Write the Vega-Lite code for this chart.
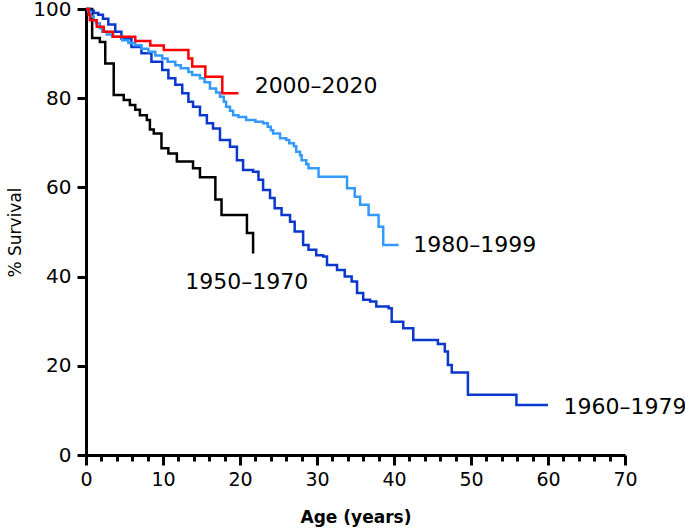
{
  "$schema": "https://vega.github.io/schema/vega-lite/v6.json",
  "autosize": "none",
  "width": 539,
  "height": 446,
  "padding": {"left": 86, "top": 9, "right": 60, "bottom": 77},
  "background": "white",
  "config": {
    "view": {"stroke": null},
    "font": "DejaVu Sans",
    "axis": {
      "grid": false,
      "domainColor": "black",
      "domainWidth": 3,
      "tickColor": "black",
      "tickWidth": 3,
      "labelColor": "black",
      "labelFont": "DejaVu Sans",
      "labelFontSize": 19,
      "titleColor": "black",
      "titleFont": "DejaVu Sans",
      "titleFontSize": 17,
      "labelOverlap": false
    }
  },
  "datasets": {
    "curves": [
      {"period": "1950–1970", "age": 0, "survival": 100},
      {"period": "1950–1970", "age": 0.8, "survival": 93.5},
      {"period": "1950–1970", "age": 1.8, "survival": 92.6},
      {"period": "1950–1970", "age": 2.5, "survival": 87.8},
      {"period": "1950–1970", "age": 3.6, "survival": 80.7},
      {"period": "1950–1970", "age": 4.9, "survival": 79.6},
      {"period": "1950–1970", "age": 5.7, "survival": 78.5},
      {"period": "1950–1970", "age": 6.4, "survival": 77.4},
      {"period": "1950–1970", "age": 7.0, "survival": 76.2},
      {"period": "1950–1970", "age": 7.9, "survival": 75.1},
      {"period": "1950–1970", "age": 8.3, "survival": 73.0},
      {"period": "1950–1970", "age": 8.8, "survival": 72.1},
      {"period": "1950–1970", "age": 9.8, "survival": 68.8},
      {"period": "1950–1970", "age": 10.7, "survival": 67.6},
      {"period": "1950–1970", "age": 11.8, "survival": 65.8},
      {"period": "1950–1970", "age": 13.9, "survival": 64.3},
      {"period": "1950–1970", "age": 14.8, "survival": 62.3},
      {"period": "1950–1970", "age": 16.8, "survival": 57.3},
      {"period": "1950–1970", "age": 17.6, "survival": 53.8},
      {"period": "1950–1970", "age": 20.9, "survival": 49.8},
      {"period": "1950–1970", "age": 21.7, "survival": 45.2},

      {"period": "1960–1979", "age": 0, "survival": 100},
      {"period": "1960–1979", "age": 0.5, "survival": 99.6},
      {"period": "1960–1979", "age": 1.0, "survival": 99.1},
      {"period": "1960–1979", "age": 1.6, "survival": 98.7},
      {"period": "1960–1979", "age": 2.2, "survival": 97.8},
      {"period": "1960–1979", "age": 2.9, "survival": 96.5},
      {"period": "1960–1979", "age": 3.8, "survival": 94.9},
      {"period": "1960–1979", "age": 4.6, "survival": 93.4},
      {"period": "1960–1979", "age": 5.9, "survival": 91.5},
      {"period": "1960–1979", "age": 7.2, "survival": 90.1},
      {"period": "1960–1979", "age": 8.5, "survival": 88.2},
      {"period": "1960–1979", "age": 9.9, "survival": 86.3},
      {"period": "1960–1979", "age": 10.7, "survival": 84.5},
      {"period": "1960–1979", "age": 11.6, "survival": 83.0},
      {"period": "1960–1979", "age": 12.5, "survival": 81.1},
      {"period": "1960–1979", "age": 13.3, "survival": 79.2},
      {"period": "1960–1979", "age": 13.9, "survival": 78.1},
      {"period": "1960–1979", "age": 14.8, "survival": 76.2},
      {"period": "1960–1979", "age": 15.7, "survival": 74.4},
      {"period": "1960–1979", "age": 16.5, "survival": 73.2},
      {"period": "1960–1979", "age": 17.4, "survival": 70.6},
      {"period": "1960–1979", "age": 18.7, "survival": 69.1},
      {"period": "1960–1979", "age": 19.6, "survival": 66.1},
      {"period": "1960–1979", "age": 20.4, "survival": 63.9},
      {"period": "1960–1979", "age": 21.7, "survival": 63.5},
      {"period": "1960–1979", "age": 22.4, "survival": 61.7},
      {"period": "1960–1979", "age": 23.0, "survival": 59.4},
      {"period": "1960–1979", "age": 23.9, "survival": 57.6},
      {"period": "1960–1979", "age": 24.5, "survival": 55.3},
      {"period": "1960–1979", "age": 25.4, "survival": 53.8},
      {"period": "1960–1979", "age": 26.5, "survival": 52.3},
      {"period": "1960–1979", "age": 27.1, "survival": 50.1},
      {"period": "1960–1979", "age": 28.2, "survival": 47.1},
      {"period": "1960–1979", "age": 28.9, "survival": 46.0},
      {"period": "1960–1979", "age": 29.9, "survival": 44.8},
      {"period": "1960–1979", "age": 30.8, "survival": 44.5},
      {"period": "1960–1979", "age": 31.3, "survival": 42.6},
      {"period": "1960–1979", "age": 32.6, "survival": 41.5},
      {"period": "1960–1979", "age": 33.6, "survival": 40.0},
      {"period": "1960–1979", "age": 34.5, "survival": 38.9},
      {"period": "1960–1979", "age": 35.2, "survival": 36.3},
      {"period": "1960–1979", "age": 36.0, "survival": 34.8},
      {"period": "1960–1979", "age": 36.9, "survival": 34.4},
      {"period": "1960–1979", "age": 37.7, "survival": 33.3},
      {"period": "1960–1979", "age": 39.3, "survival": 32.9},
      {"period": "1960–1979", "age": 39.7, "survival": 29.9},
      {"period": "1960–1979", "age": 41.2, "survival": 28.4},
      {"period": "1960–1979", "age": 42.5, "survival": 25.8},
      {"period": "1960–1979", "age": 45.7, "survival": 24.9},
      {"period": "1960–1979", "age": 46.6, "survival": 23.2},
      {"period": "1960–1979", "age": 47.0, "survival": 20.2},
      {"period": "1960–1979", "age": 47.5, "survival": 18.5},
      {"period": "1960–1979", "age": 49.6, "survival": 13.5},
      {"period": "1960–1979", "age": 55.9, "survival": 11.2},
      {"period": "1960–1979", "age": 60.0, "survival": 11.2},

      {"period": "1980–1999", "age": 0, "survival": 100},
      {"period": "1980–1999", "age": 0.3, "survival": 99.3},
      {"period": "1980–1999", "age": 0.6, "survival": 98.3},
      {"period": "1980–1999", "age": 1.0, "survival": 97.5},
      {"period": "1980–1999", "age": 1.3, "survival": 96.8},
      {"period": "1980–1999", "age": 1.8, "survival": 95.7},
      {"period": "1980–1999", "age": 2.1, "survival": 94.9},
      {"period": "1980–1999", "age": 2.7, "survival": 94.3},
      {"period": "1980–1999", "age": 3.4, "survival": 93.8},
      {"period": "1980–1999", "age": 4.7, "survival": 93.0},
      {"period": "1980–1999", "age": 5.5, "survival": 92.4},
      {"period": "1980–1999", "age": 6.4, "survival": 91.9},
      {"period": "1980–1999", "age": 7.2, "survival": 91.1},
      {"period": "1980–1999", "age": 8.1, "survival": 90.4},
      {"period": "1980–1999", "age": 9.0, "survival": 89.6},
      {"period": "1980–1999", "age": 9.9, "survival": 88.9},
      {"period": "1980–1999", "age": 10.6, "survival": 88.2},
      {"period": "1980–1999", "age": 11.6, "survival": 87.4},
      {"period": "1980–1999", "age": 12.3, "survival": 86.7},
      {"period": "1980–1999", "age": 13.3, "survival": 85.9},
      {"period": "1980–1999", "age": 13.8, "survival": 85.2},
      {"period": "1980–1999", "age": 14.8, "survival": 84.5},
      {"period": "1980–1999", "age": 15.4, "survival": 83.6},
      {"period": "1980–1999", "age": 16.1, "survival": 82.2},
      {"period": "1980–1999", "age": 16.9, "survival": 81.3},
      {"period": "1980–1999", "age": 17.4, "survival": 80.3},
      {"period": "1980–1999", "age": 17.9, "survival": 79.2},
      {"period": "1980–1999", "age": 18.2, "survival": 78.1},
      {"period": "1980–1999", "age": 18.7, "survival": 77.2},
      {"period": "1980–1999", "age": 19.1, "survival": 76.2},
      {"period": "1980–1999", "age": 19.8, "survival": 75.8},
      {"period": "1980–1999", "age": 20.8, "survival": 75.1},
      {"period": "1980–1999", "age": 22.0, "survival": 74.7},
      {"period": "1980–1999", "age": 23.0, "survival": 74.4},
      {"period": "1980–1999", "age": 23.6, "survival": 73.6},
      {"period": "1980–1999", "age": 24.0, "survival": 72.8},
      {"period": "1980–1999", "age": 24.3, "survival": 72.1},
      {"period": "1980–1999", "age": 25.2, "survival": 71.0},
      {"period": "1980–1999", "age": 26.0, "survival": 70.6},
      {"period": "1980–1999", "age": 26.4, "survival": 69.9},
      {"period": "1980–1999", "age": 27.0, "survival": 69.2},
      {"period": "1980–1999", "age": 27.3, "survival": 68.0},
      {"period": "1980–1999", "age": 27.8, "survival": 67.2},
      {"period": "1980–1999", "age": 28.0, "survival": 66.1},
      {"period": "1980–1999", "age": 28.6, "survival": 65.2},
      {"period": "1980–1999", "age": 28.9, "survival": 64.3},
      {"period": "1980–1999", "age": 30.2, "survival": 62.4},
      {"period": "1980–1999", "age": 33.9, "survival": 59.8},
      {"period": "1980–1999", "age": 34.9, "survival": 57.9},
      {"period": "1980–1999", "age": 35.6, "survival": 56.1},
      {"period": "1980–1999", "age": 36.7, "survival": 53.8},
      {"period": "1980–1999", "age": 38.0, "survival": 51.2},
      {"period": "1980–1999", "age": 38.6, "survival": 47.1},
      {"period": "1980–1999", "age": 40.6, "survival": 47.1},

      {"period": "2000–2020", "age": 0, "survival": 100},
      {"period": "2000–2020", "age": 0.35, "survival": 98.7},
      {"period": "2000–2020", "age": 0.5, "survival": 97.5},
      {"period": "2000–2020", "age": 1.4, "survival": 96.0},
      {"period": "2000–2020", "age": 2.3, "survival": 94.9},
      {"period": "2000–2020", "age": 3.5, "survival": 93.8},
      {"period": "2000–2020", "age": 6.4, "survival": 92.8},
      {"period": "2000–2020", "age": 8.35, "survival": 91.8},
      {"period": "2000–2020", "age": 10.1, "survival": 90.8},
      {"period": "2000–2020", "age": 13.3, "survival": 88.9},
      {"period": "2000–2020", "age": 13.8, "survival": 87.1},
      {"period": "2000–2020", "age": 15.5, "survival": 84.8},
      {"period": "2000–2020", "age": 17.7, "survival": 81.1},
      {"period": "2000–2020", "age": 19.8, "survival": 81.1}
    ],
    "labels": [
      {"label": "2000–2020", "age": 21.9, "survival": 82.7},
      {"label": "1980–1999", "age": 42.5, "survival": 47.1},
      {"label": "1950–1970", "age": 12.9, "survival": 38.8},
      {"label": "1960–1979", "age": 62.0, "survival": 10.8}
    ]
  },
  "layer": [
    {
      "data": {"name": "curves"},
      "mark": {"type": "line", "interpolate": "step-after", "strokeWidth": 2.5, "clip": false},
      "encoding": {
        "x": {
          "field": "age", "type": "quantitative",
          "scale": {"domain": [0, 70], "nice": false},
          "axis": {
            "title": "Age (years)",
            "titleFontWeight": "bold",
            "titlePadding": 20,
            "tickCount": 100,
            "format": "d",
            "values": [0,2,4,6,8,10,12,14,16,18,20,22,24,26,28,30,32,34,36,38,40,42,44,46,48,50,52,54,56,58,60,62,64,66,68,70],
            "labelExpr": "datum.value % 10 === 0 ? datum.label : ''",
            "tickSize": {"condition": {"test": "datum.value % 10 === 0", "value": 10}, "value": 6},
            "labelPadding": 5,
            "labelFlush": false,
            "labelOverlap": false,
            "labelBound": false
          }
        },
        "y": {
          "field": "survival", "type": "quantitative",
          "scale": {"domain": [0, 100], "nice": false},
          "axis": {
            "title": "% Survival",
            "titleFontWeight": "normal",
            "titlePadding": 8,
            "values": [0, 20, 40, 60, 80, 100],
            "tickSize": 9,
            "labelFontSize": 20,
            "labelPadding": 6
          }
        },
        "color": {
          "field": "period", "type": "nominal",
          "scale": {
            "domain": ["1950–1970", "1960–1979", "1980–1999", "2000–2020"],
            "range": ["#000000", "#0a37cc", "#3399ff", "#ff0000"]
          },
          "legend": null
        }
      }
    },
    {
      "data": {"name": "labels"},
      "mark": {"type": "text", "align": "left", "baseline": "middle", "fontSize": 22, "font": "DejaVu Sans", "color": "black", "clip": false},
      "encoding": {
        "x": {"field": "age", "type": "quantitative"},
        "y": {"field": "survival", "type": "quantitative"},
        "text": {"field": "label"}
      }
    }
  ]
}
